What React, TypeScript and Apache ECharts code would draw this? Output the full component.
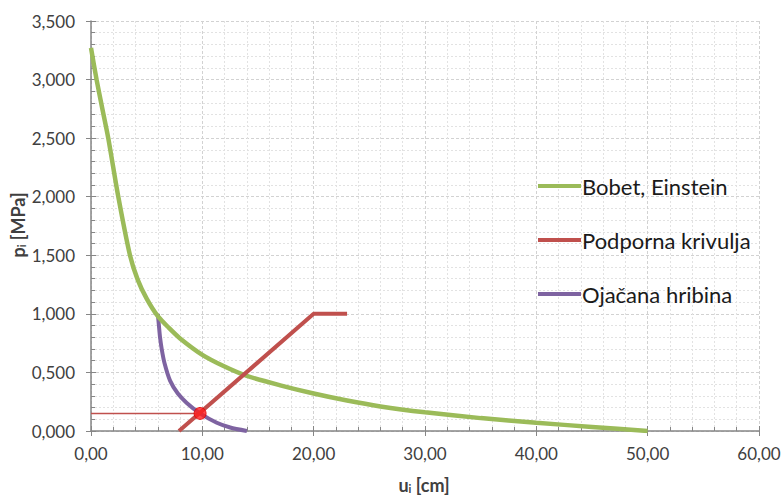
import React, { useEffect, useRef } from "react";
import * as echarts from "echarts";

const bobetU = [0, 0.5, 1, 1.55, 2.45, 3.5, 4.2, 5, 6, 7, 8, 10, 12, 14, 17, 20, 23, 26, 30, 35, 40, 45, 50];
const bobetP = [3.27, 3.0, 2.76, 2.5, 2.0, 1.5, 1.29, 1.13, 0.98, 0.88, 0.79, 0.65, 0.55, 0.47, 0.39, 0.32, 0.26, 0.21, 0.16, 0.11, 0.07, 0.035, 0.0];

const podpornaU = [7.9, 20, 23];
const podpornaP = [0.0, 1.0, 1.0];

const ojacanaU = [6.0, 6.1, 6.2, 6.35, 6.6, 7.1, 7.8, 8.6, 9.8, 11.3, 12.5, 14.0];
const ojacanaP = [1.0, 0.9, 0.8, 0.7, 0.58, 0.43, 0.32, 0.24, 0.15, 0.07, 0.03, 0.0];

const guideU = [0, 9.8];
const guideP = [0.15, 0.15];

const pointU = [9.8];
const pointP = [0.15];

const seriesNames = ["Bobet, Einstein", "Podporna krivulja", "Ojačana hribina"];

const zip = (u: number[], p: number[]) => u.map((v, i) => [v, p[i]]);

const FONT = "Lato";

export default function App() {
  const ref = useRef<HTMLDivElement>(null);
  useEffect(() => {
    if (!ref.current) return;
    const chart = echarts.init(ref.current, undefined, { renderer: "svg" });
    const axisColor = "#868686";
    const labelStyle = { color: "#404040", fontSize: 17, fontFamily: FONT };
    const titleRich = {
      b: { fontSize: 18, fontWeight: "bold", fontFamily: FONT, fill: "#404040" },
      s: { fontSize: 11, fontWeight: "bold", fontFamily: FONT, fill: "#404040", verticalAlign: "bottom", padding: [7, 0, 0, 0] },
    };
    chart.setOption({
      animation: false,
      backgroundColor: "#ffffff",
      grid: { left: 91, right: 25, top: 21, bottom: 65 },
      legend: {
        orient: "vertical",
        left: 538,
        top: 175,
        padding: 0,
        itemGap: 32,
        itemWidth: 43,
        itemHeight: 4,
        icon: "rect",
        data: seriesNames,
        textStyle: { fontSize: 22, fontFamily: FONT, color: "#1a1a1a", padding: [0, 0, 0, -4] },
      },
      xAxis: [
        {
          type: "value",
          min: 0,
          max: 60,
          interval: 10,
          axisLine: { lineStyle: { color: axisColor, width: 1.5 } },
          axisTick: { inside: true, length: 5, lineStyle: { color: axisColor } },
          minorTick: { show: true, splitNumber: 5, length: 4, lineStyle: { color: axisColor } },
          axisLabel: { ...labelStyle, margin: 14, formatter: (v: number) => v.toFixed(2).replace(".", ",") },
          splitLine: { show: true, lineStyle: { color: "#d2d2d2", type: [3, 2] } },
          minorSplitLine: { show: true, lineStyle: { color: "#e2e2e2", type: [2, 2] } },
        },
        {
          type: "value",
          min: 0,
          max: 60,
          interval: 10,
          position: "bottom",
          axisLine: { show: false },
          axisTick: { show: true, inside: false, length: 5, lineStyle: { color: axisColor } },
          axisLabel: { show: false },
          splitLine: { show: false },
        },
      ],
      yAxis: [
        {
          type: "value",
          min: 0,
          max: 3.5,
          interval: 0.5,
          axisLine: { show: true, lineStyle: { color: axisColor, width: 1.5 } },
          axisTick: { show: true, inside: true, length: 5, lineStyle: { color: axisColor } },
          minorTick: { show: true, splitNumber: 5, length: 4, lineStyle: { color: axisColor } },
          axisLabel: { ...labelStyle, margin: 16, formatter: (v: number) => v.toFixed(3).replace(".", ",") },
          splitLine: { show: true, lineStyle: { color: "#d2d2d2", type: [3, 2] } },
          minorSplitLine: { show: true, lineStyle: { color: "#e2e2e2", type: [2, 2] } },
        },
        {
          type: "value",
          min: 0,
          max: 3.5,
          interval: 0.5,
          position: "left",
          axisLine: { show: false },
          axisTick: { show: true, inside: false, length: 5, lineStyle: { color: axisColor } },
          axisLabel: { show: false },
          splitLine: { show: false },
        },
      ],
      graphic: [
        {
          type: "text",
          x: 424,
          y: 485,
          style: {
            text: "{b|u}{s|i}{b| [cm]}",
            align: "center",
            verticalAlign: "middle",
            rich: titleRich,
          },
        },
        {
          type: "text",
          x: 18,
          y: 225,
          rotation: Math.PI / 2,
          style: {
            text: "{b|p}{s|i}{b| [MPa]}",
            align: "center",
            verticalAlign: "middle",
            rich: titleRich,
          },
        },
      ],
      series: [
        {
          name: seriesNames[0],
          type: "line",
          data: zip(bobetU, bobetP),
          smooth: 0.25,
          showSymbol: false,
          color: "#9BBB59",
          lineStyle: { width: 4.5, color: "#9BBB59" },
          z: 3,
        },
        {
          name: seriesNames[1],
          type: "line",
          data: zip(podpornaU, podpornaP),
          showSymbol: false,
          color: "#C0504D",
          lineStyle: { width: 4, color: "#C0504D" },
          z: 4,
        },
        {
          name: seriesNames[2],
          type: "line",
          data: zip(ojacanaU, ojacanaP),
          smooth: 0.25,
          showSymbol: false,
          color: "#7E63A1",
          lineStyle: { width: 4, color: "#7E63A1" },
          z: 2,
        },
        {
          name: "guide",
          type: "line",
          data: zip(guideU, guideP),
          showSymbol: false,
          color: "#C0504D",
          lineStyle: { width: 1.5, color: "#C0504D" },
          z: 5,
        },
        {
          name: "point",
          type: "scatter",
          data: zip(pointU, pointP),
          symbolSize: 12,
          itemStyle: { color: "#FF1E1E", borderColor: "#E00000", borderWidth: 1 },
          z: 6,
        },
      ],
    });
    return () => chart.dispose();
  }, []);
  return <div ref={ref} style={{ width: 784, height: 496, position: "absolute", left: 0, top: 0 }} />;
}
